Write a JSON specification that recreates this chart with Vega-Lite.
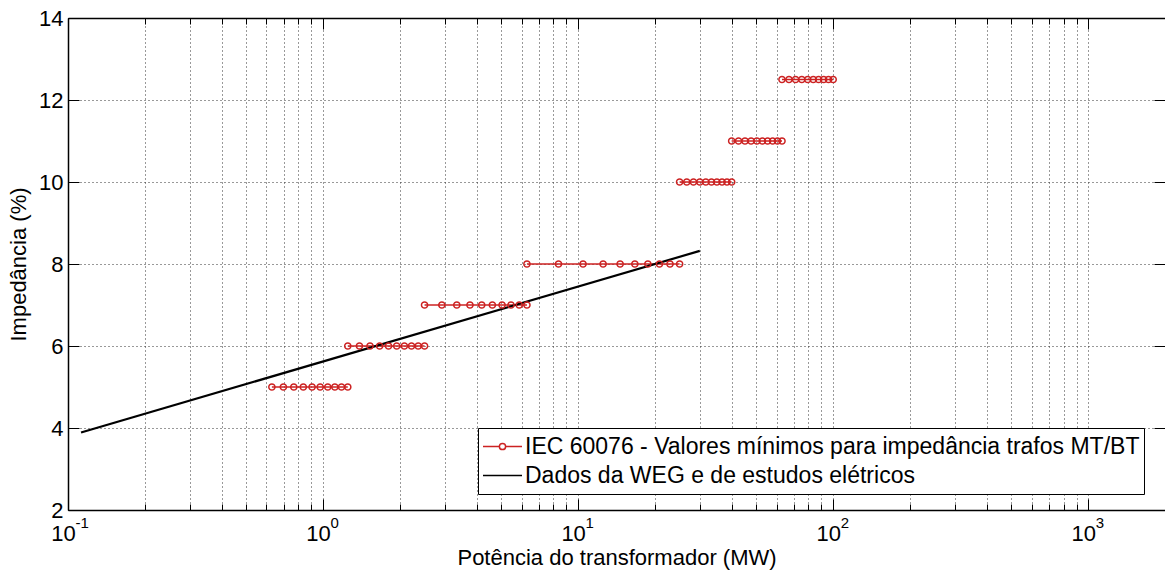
{
  "$schema": "https://vega.github.io/schema/vega-lite/v6.json",
  "width": 1097,
  "height": 492,
  "autosize": {"type": "none"},
  "padding": {"left": 68, "top": 18, "right": 0, "bottom": 62},
  "background": "white",
  "config": {
    "view": {"stroke": null},
    "font": "Liberation Sans",
    "axis": {"labelFont": "Liberation Sans", "titleFont": "Liberation Sans", "labelColor": "#000", "titleColor": "#000", "titleFontWeight": "normal", "domainColor": "#000", "tickColor": "#000"}
  },
  "datasets": {
    "iec": [
      {"p": 0.63, "z": 5, "serie": "IEC 60076 - Valores mínimos para impedância trafos MT/BT", "seg": "s5"},
      {"p": 0.6989, "z": 5, "serie": "IEC 60076 - Valores mínimos para impedância trafos MT/BT", "seg": "s5"},
      {"p": 0.7678, "z": 5, "serie": "IEC 60076 - Valores mínimos para impedância trafos MT/BT", "seg": "s5"},
      {"p": 0.8367, "z": 5, "serie": "IEC 60076 - Valores mínimos para impedância trafos MT/BT", "seg": "s5"},
      {"p": 0.9056, "z": 5, "serie": "IEC 60076 - Valores mínimos para impedância trafos MT/BT", "seg": "s5"},
      {"p": 0.9744, "z": 5, "serie": "IEC 60076 - Valores mínimos para impedância trafos MT/BT", "seg": "s5"},
      {"p": 1.0433, "z": 5, "serie": "IEC 60076 - Valores mínimos para impedância trafos MT/BT", "seg": "s5"},
      {"p": 1.1122, "z": 5, "serie": "IEC 60076 - Valores mínimos para impedância trafos MT/BT", "seg": "s5"},
      {"p": 1.1811, "z": 5, "serie": "IEC 60076 - Valores mínimos para impedância trafos MT/BT", "seg": "s5"},
      {"p": 1.25, "z": 5, "serie": "IEC 60076 - Valores mínimos para impedância trafos MT/BT", "seg": "s5"},
      {"p": 1.25, "z": 6, "serie": "IEC 60076 - Valores mínimos para impedância trafos MT/BT", "seg": "s6"},
      {"p": 1.3889, "z": 6, "serie": "IEC 60076 - Valores mínimos para impedância trafos MT/BT", "seg": "s6"},
      {"p": 1.5278, "z": 6, "serie": "IEC 60076 - Valores mínimos para impedância trafos MT/BT", "seg": "s6"},
      {"p": 1.6667, "z": 6, "serie": "IEC 60076 - Valores mínimos para impedância trafos MT/BT", "seg": "s6"},
      {"p": 1.8056, "z": 6, "serie": "IEC 60076 - Valores mínimos para impedância trafos MT/BT", "seg": "s6"},
      {"p": 1.9444, "z": 6, "serie": "IEC 60076 - Valores mínimos para impedância trafos MT/BT", "seg": "s6"},
      {"p": 2.0833, "z": 6, "serie": "IEC 60076 - Valores mínimos para impedância trafos MT/BT", "seg": "s6"},
      {"p": 2.2222, "z": 6, "serie": "IEC 60076 - Valores mínimos para impedância trafos MT/BT", "seg": "s6"},
      {"p": 2.3611, "z": 6, "serie": "IEC 60076 - Valores mínimos para impedância trafos MT/BT", "seg": "s6"},
      {"p": 2.5, "z": 6, "serie": "IEC 60076 - Valores mínimos para impedância trafos MT/BT", "seg": "s6"},
      {"p": 2.5, "z": 7, "serie": "IEC 60076 - Valores mínimos para impedância trafos MT/BT", "seg": "s7"},
      {"p": 2.9222, "z": 7, "serie": "IEC 60076 - Valores mínimos para impedância trafos MT/BT", "seg": "s7"},
      {"p": 3.3444, "z": 7, "serie": "IEC 60076 - Valores mínimos para impedância trafos MT/BT", "seg": "s7"},
      {"p": 3.7667, "z": 7, "serie": "IEC 60076 - Valores mínimos para impedância trafos MT/BT", "seg": "s7"},
      {"p": 4.1889, "z": 7, "serie": "IEC 60076 - Valores mínimos para impedância trafos MT/BT", "seg": "s7"},
      {"p": 4.6111, "z": 7, "serie": "IEC 60076 - Valores mínimos para impedância trafos MT/BT", "seg": "s7"},
      {"p": 5.0333, "z": 7, "serie": "IEC 60076 - Valores mínimos para impedância trafos MT/BT", "seg": "s7"},
      {"p": 5.4556, "z": 7, "serie": "IEC 60076 - Valores mínimos para impedância trafos MT/BT", "seg": "s7"},
      {"p": 5.8778, "z": 7, "serie": "IEC 60076 - Valores mínimos para impedância trafos MT/BT", "seg": "s7"},
      {"p": 6.3, "z": 7, "serie": "IEC 60076 - Valores mínimos para impedância trafos MT/BT", "seg": "s7"},
      {"p": 6.3, "z": 8, "serie": "IEC 60076 - Valores mínimos para impedância trafos MT/BT", "seg": "s8"},
      {"p": 8.3778, "z": 8, "serie": "IEC 60076 - Valores mínimos para impedância trafos MT/BT", "seg": "s8"},
      {"p": 10.4556, "z": 8, "serie": "IEC 60076 - Valores mínimos para impedância trafos MT/BT", "seg": "s8"},
      {"p": 12.5333, "z": 8, "serie": "IEC 60076 - Valores mínimos para impedância trafos MT/BT", "seg": "s8"},
      {"p": 14.6111, "z": 8, "serie": "IEC 60076 - Valores mínimos para impedância trafos MT/BT", "seg": "s8"},
      {"p": 16.6889, "z": 8, "serie": "IEC 60076 - Valores mínimos para impedância trafos MT/BT", "seg": "s8"},
      {"p": 18.7667, "z": 8, "serie": "IEC 60076 - Valores mínimos para impedância trafos MT/BT", "seg": "s8"},
      {"p": 20.8444, "z": 8, "serie": "IEC 60076 - Valores mínimos para impedância trafos MT/BT", "seg": "s8"},
      {"p": 22.9222, "z": 8, "serie": "IEC 60076 - Valores mínimos para impedância trafos MT/BT", "seg": "s8"},
      {"p": 25, "z": 8, "serie": "IEC 60076 - Valores mínimos para impedância trafos MT/BT", "seg": "s8"},
      {"p": 25, "z": 10, "serie": "IEC 60076 - Valores mínimos para impedância trafos MT/BT", "seg": "s10"},
      {"p": 26.667, "z": 10, "serie": "IEC 60076 - Valores mínimos para impedância trafos MT/BT", "seg": "s10"},
      {"p": 28.333, "z": 10, "serie": "IEC 60076 - Valores mínimos para impedância trafos MT/BT", "seg": "s10"},
      {"p": 30, "z": 10, "serie": "IEC 60076 - Valores mínimos para impedância trafos MT/BT", "seg": "s10"},
      {"p": 31.667, "z": 10, "serie": "IEC 60076 - Valores mínimos para impedância trafos MT/BT", "seg": "s10"},
      {"p": 33.333, "z": 10, "serie": "IEC 60076 - Valores mínimos para impedância trafos MT/BT", "seg": "s10"},
      {"p": 35, "z": 10, "serie": "IEC 60076 - Valores mínimos para impedância trafos MT/BT", "seg": "s10"},
      {"p": 36.667, "z": 10, "serie": "IEC 60076 - Valores mínimos para impedância trafos MT/BT", "seg": "s10"},
      {"p": 38.333, "z": 10, "serie": "IEC 60076 - Valores mínimos para impedância trafos MT/BT", "seg": "s10"},
      {"p": 40, "z": 10, "serie": "IEC 60076 - Valores mínimos para impedância trafos MT/BT", "seg": "s10"},
      {"p": 40, "z": 11, "serie": "IEC 60076 - Valores mínimos para impedância trafos MT/BT", "seg": "s11"},
      {"p": 42.556, "z": 11, "serie": "IEC 60076 - Valores mínimos para impedância trafos MT/BT", "seg": "s11"},
      {"p": 45.111, "z": 11, "serie": "IEC 60076 - Valores mínimos para impedância trafos MT/BT", "seg": "s11"},
      {"p": 47.667, "z": 11, "serie": "IEC 60076 - Valores mínimos para impedância trafos MT/BT", "seg": "s11"},
      {"p": 50.222, "z": 11, "serie": "IEC 60076 - Valores mínimos para impedância trafos MT/BT", "seg": "s11"},
      {"p": 52.778, "z": 11, "serie": "IEC 60076 - Valores mínimos para impedância trafos MT/BT", "seg": "s11"},
      {"p": 55.333, "z": 11, "serie": "IEC 60076 - Valores mínimos para impedância trafos MT/BT", "seg": "s11"},
      {"p": 57.889, "z": 11, "serie": "IEC 60076 - Valores mínimos para impedância trafos MT/BT", "seg": "s11"},
      {"p": 60.444, "z": 11, "serie": "IEC 60076 - Valores mínimos para impedância trafos MT/BT", "seg": "s11"},
      {"p": 63, "z": 11, "serie": "IEC 60076 - Valores mínimos para impedância trafos MT/BT", "seg": "s11"},
      {"p": 63, "z": 12.5, "serie": "IEC 60076 - Valores mínimos para impedância trafos MT/BT", "seg": "s12"},
      {"p": 67.111, "z": 12.5, "serie": "IEC 60076 - Valores mínimos para impedância trafos MT/BT", "seg": "s12"},
      {"p": 71.222, "z": 12.5, "serie": "IEC 60076 - Valores mínimos para impedância trafos MT/BT", "seg": "s12"},
      {"p": 75.333, "z": 12.5, "serie": "IEC 60076 - Valores mínimos para impedância trafos MT/BT", "seg": "s12"},
      {"p": 79.444, "z": 12.5, "serie": "IEC 60076 - Valores mínimos para impedância trafos MT/BT", "seg": "s12"},
      {"p": 83.556, "z": 12.5, "serie": "IEC 60076 - Valores mínimos para impedância trafos MT/BT", "seg": "s12"},
      {"p": 87.667, "z": 12.5, "serie": "IEC 60076 - Valores mínimos para impedância trafos MT/BT", "seg": "s12"},
      {"p": 91.778, "z": 12.5, "serie": "IEC 60076 - Valores mínimos para impedância trafos MT/BT", "seg": "s12"},
      {"p": 95.889, "z": 12.5, "serie": "IEC 60076 - Valores mínimos para impedância trafos MT/BT", "seg": "s12"},
      {"p": 100, "z": 12.5, "serie": "IEC 60076 - Valores mínimos para impedância trafos MT/BT", "seg": "s12"}
    ],
    "weg": [
      {"p": 0.1125, "z": 3.89, "serie": "Dados da WEG e de estudos elétricos", "seg": "w"},
      {"p": 30, "z": 8.32, "serie": "Dados da WEG e de estudos elétricos", "seg": "w"}
    ]
  },
  "resolve": {"axis": {"x": "independent", "y": "independent"}},
  "layer": [
    {
      "data": {"name": "iec"},
      "mark": {"type": "line", "strokeWidth": 1.5},
      "encoding": {
        "x": {
          "field": "p", "type": "quantitative",
          "scale": {"type": "log", "domain": [0.1, 2000], "nice": false},
          "axis": {
            "orient": "bottom",
            "values": [0.1, 0.2, 0.3, 0.4, 0.5, 0.6, 0.7, 0.8, 0.9, 1, 2, 3, 4, 5, 6, 7, 8, 9, 10, 20, 30, 40, 50, 60, 70, 80, 90, 100, 200, 300, 400, 500, 600, 700, 800, 900, 1000],
            "labelExpr": "abs(log(datum.value)/LN10 - round(log(datum.value)/LN10)) < 0.001 ? '10' : ''",
            "grid": true, "gridColor": "#333", "gridDash": [1, 3], "gridWidth": 1,
            "ticks": true,
            "tickSize": {"condition": {"test": "abs(log(datum.value)/LN10 - round(log(datum.value)/LN10)) < 0.001", "value": -11}, "value": -6},
            "tickWidth": 1, "tickColor": "#000",
            "domain": true, "domainColor": "#000", "domainWidth": 1.5,
            "labelFontSize": 22, "labelPadding": 24, "labelOffset": -5,
            "labelFlush": false, "labelOverlap": false, "labelBound": false,
            "title": "Potência do transformador (MW)", "titleFontSize": 22, "titlePadding": -2
          }
        },
        "y": {
          "field": "z", "type": "quantitative",
          "scale": {"domain": [2, 14], "nice": false, "zero": false},
          "axis": {
            "orient": "left",
            "values": [2, 4, 6, 8, 10, 12, 14],
            "grid": true, "gridColor": "#333", "gridDash": [1, 3], "gridWidth": 1,
            "tickSize": -11, "tickWidth": 1, "tickColor": "#000",
            "domain": true, "domainColor": "#000", "domainWidth": 1.5,
            "labelFontSize": 22, "labelPadding": 16,
            "labelFlush": false, "labelOverlap": false, "labelBound": false,
            "title": "Impedância (%)", "titleFontSize": 22, "titlePadding": 8
          }
        },
        "color": {
          "field": "serie", "type": "nominal",
          "scale": {"domain": ["IEC 60076 - Valores mínimos para impedância trafos MT/BT", "Dados da WEG e de estudos elétricos"], "range": ["#cc2222", "#000000"]},
          "legend": {
            "orient": "none", "legendX": 410, "legendY": 410,
            "title": null,
            "fillColor": "white", "strokeColor": "#000",
            "padding": 4,
            "labelFont": "Liberation Sans", "labelFontSize": 23, "labelColor": "#000", "labelOffset": 2, "labelLimit": 1000,
            "symbolSize": 1521, "clipHeight": 29, "rowPadding": 0,
            "encode": {
              "symbols": {
                "update": {
                  "shape": {"signal": "datum.value == 'IEC 60076 - Valores mínimos para impedância trafos MT/BT' ? 'M-1,0L-0.16,0M0.16,0A0.16,0.16,0,1,1,-0.16,0A0.16,0.16,0,1,1,0.16,0L1,0' : 'M-1,0L1,0'"},
                  "fill": {"value": "transparent"},
                  "stroke": {"signal": "datum.value == 'IEC 60076 - Valores mínimos para impedância trafos MT/BT' ? '#cc2222' : '#000000'"},
                  "strokeWidth": {"value": 1.5},
                  "size": {"value": 1521},
                  "opacity": {"value": 1}
                }
              }
            }
          }
        },
        "detail": {"field": "seg", "type": "nominal"}
      }
    },
    {
      "data": {"name": "weg"},
      "mark": {"type": "line", "strokeWidth": 2.2},
      "encoding": {
        "x": {
          "field": "p", "type": "quantitative",
          "axis": {
            "orient": "top",
            "values": [0.1, 0.2, 0.3, 0.4, 0.5, 0.6, 0.7, 0.8, 0.9, 1, 2, 3, 4, 5, 6, 7, 8, 9, 10, 20, 30, 40, 50, 60, 70, 80, 90, 100, 200, 300, 400, 500, 600, 700, 800, 900, 1000],
            "labels": false, "grid": false,
            "tickSize": {"condition": {"test": "abs(log(datum.value)/LN10 - round(log(datum.value)/LN10)) < 0.001", "value": -11}, "value": -6},
            "tickWidth": 1, "tickColor": "#000",
            "domain": true, "domainColor": "#000", "domainWidth": 1.5,
            "title": null
          }
        },
        "y": {
          "field": "z", "type": "quantitative",
          "axis": {
            "orient": "right",
            "values": [2, 4, 6, 8, 10, 12, 14],
            "labels": false, "grid": false,
            "tickSize": -11, "tickWidth": 1, "tickColor": "#000",
            "domain": false, "title": null
          }
        },
        "color": {"field": "serie", "type": "nominal"},
        "detail": {"field": "seg", "type": "nominal"}
      }
    },
    {
      "data": {"name": "iec"},
      "mark": {"type": "point", "shape": "circle", "filled": false, "size": 38, "strokeWidth": 1.5, "opacity": 1},
      "encoding": {
        "x": {
          "field": "p", "type": "quantitative",
          "axis": {
            "orient": "bottom",
            "values": [0.1, 1, 10, 100, 1000],
            "labelExpr": "'' + round(log(datum.value)/LN10)",
            "ticks": false, "grid": false, "domain": false,
            "labelFontSize": 15, "labelAlign": "left", "labelOffset": 7, "labelPadding": 5,
            "labelFlush": false, "labelOverlap": false, "labelBound": false,
            "title": null
          }
        },
        "y": {"field": "z", "type": "quantitative", "axis": null},
        "color": {"field": "serie", "type": "nominal"}
      }
    }
  ]
}
